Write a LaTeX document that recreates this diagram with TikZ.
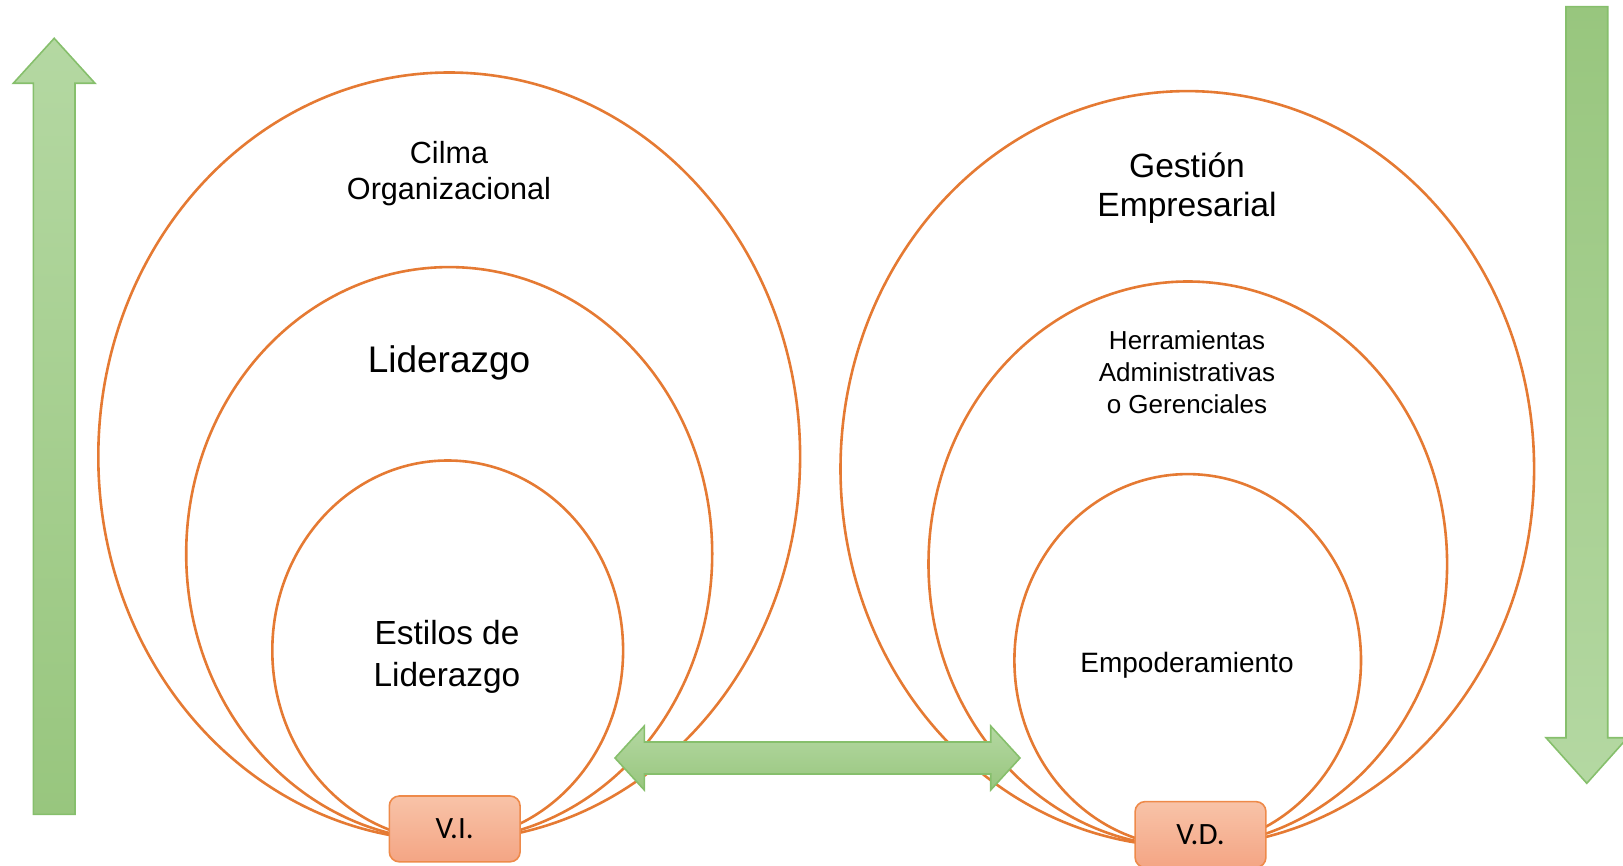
\documentclass[tikz,border=0pt]{standalone}
\usepackage{fontspec}
\setmainfont{Liberation Sans}
\newfontfamily\boxfont{Carlito}
\usepackage{tikz}
\usetikzlibrary{calc,positioning,arrows,shapes}
\definecolor{ringorange}{HTML}{E57A33}
\definecolor{boxtop}{HTML}{F8C3A8}
\definecolor{boxbot}{HTML}{F4A584}
\definecolor{boxline}{HTML}{EE8A4A}
\definecolor{arrlight}{HTML}{B4D8A2}
\definecolor{arrdark}{HTML}{98C67E}
\definecolor{arrline}{HTML}{86BF6C}

\begin{document}
\begin{tikzpicture}[x=0.5pt,y=-0.5pt,
    ring/.style={ellipse,draw=ringorange,line width=1.3pt,inner sep=0pt},
    var/.style={rounded corners=5pt,draw=boxline,line width=0.8pt,top color=boxtop,bottom color=boxbot,
                minimum width=65.4pt,minimum height=32.9pt,font=\boxfont\fontsize{15.5}{18}\selectfont},
    blockarrow/.style={draw=arrline,line width=0.8pt,line join=miter}]
    \useasboundingbox (0,0) rectangle (1623,866);

    % variable independiente
    \node[ring,minimum width=350.9pt,minimum height=384pt] at (449.2,456.5) (clima) {};
    \node[ring,minimum width=263pt,minimum height=286.7pt] at (449.2,553.8) (lider) {};
    \node[ring,minimum width=175.4pt,minimum height=190pt] at (447.7,650.5) (estilos) {};
    \node[align=center,font=\fontsize{15.3}{18}\selectfont] at (449,174) (tclima) {Cilma\\Organizacional};
    \node[font=\fontsize{18.5}{22}\selectfont] at (449,363) (tlider) {Liderazgo};
    \node[align=center,font=\fontsize{16.7}{20.7}\selectfont] at (447,657) (testilos) {Estilos de\\Liderazgo};

    % variable dependiente
    \node[ring,minimum width=346.8pt,minimum height=377.8pt] at (1187.3,468.9) (gestion) {};
    \node[ring,minimum width=259.3pt,minimum height=282.6pt] at (1187.8,564.1) (herram) {};
    \node[ring,minimum width=173.3pt,minimum height=186.3pt] at (1187.7,660.4) (empod) {};
    \node[align=center,font=\fontsize{16.8}{19.2}\selectfont] at (1187,188) (tgestion) {Gestión\\Empresarial};
    \node[align=center,font=\fontsize{13}{16}\selectfont] at (1187,372) (therram) {Herramientas\\Administrativas\\o Gerenciales};
    \node[font=\fontsize{14}{17}\selectfont] at (1187,665.5) (tempod) {Empoderamiento};

    % flechas
    \shadedraw[blockarrow,top color=arrlight,bottom color=arrdark]
      (33.3,814.3) -- (33.3,83.3) -- (13.3,83.3) -- (54.2,38.3) -- (95,83.3) -- (75,83.3) -- (75,814.3) -- cycle;
    \shadedraw[blockarrow,top color=arrdark,bottom color=arrlight]
      (1566,6.7) -- (1566,737.7) -- (1546,737.7) -- (1586.8,783.3) -- (1627.6,737.7) -- (1607.7,737.7) -- (1607.7,6.7) -- cycle;
    \shadedraw[blockarrow,top color=arrlight,bottom color=arrdark]
      (615,758) -- (644.3,726) -- (644.3,742) -- (990.7,742) -- (990.7,726) -- (1020,758)
      -- (990.7,790) -- (990.7,774) -- (644.3,774) -- (644.3,790) -- cycle;

    \node[var] at (454.7,828.9) (vi) {V.I.};
    \node[var] at (1200.5,834.5) (vd) {V.D.};
\end{tikzpicture}
\end{document}
